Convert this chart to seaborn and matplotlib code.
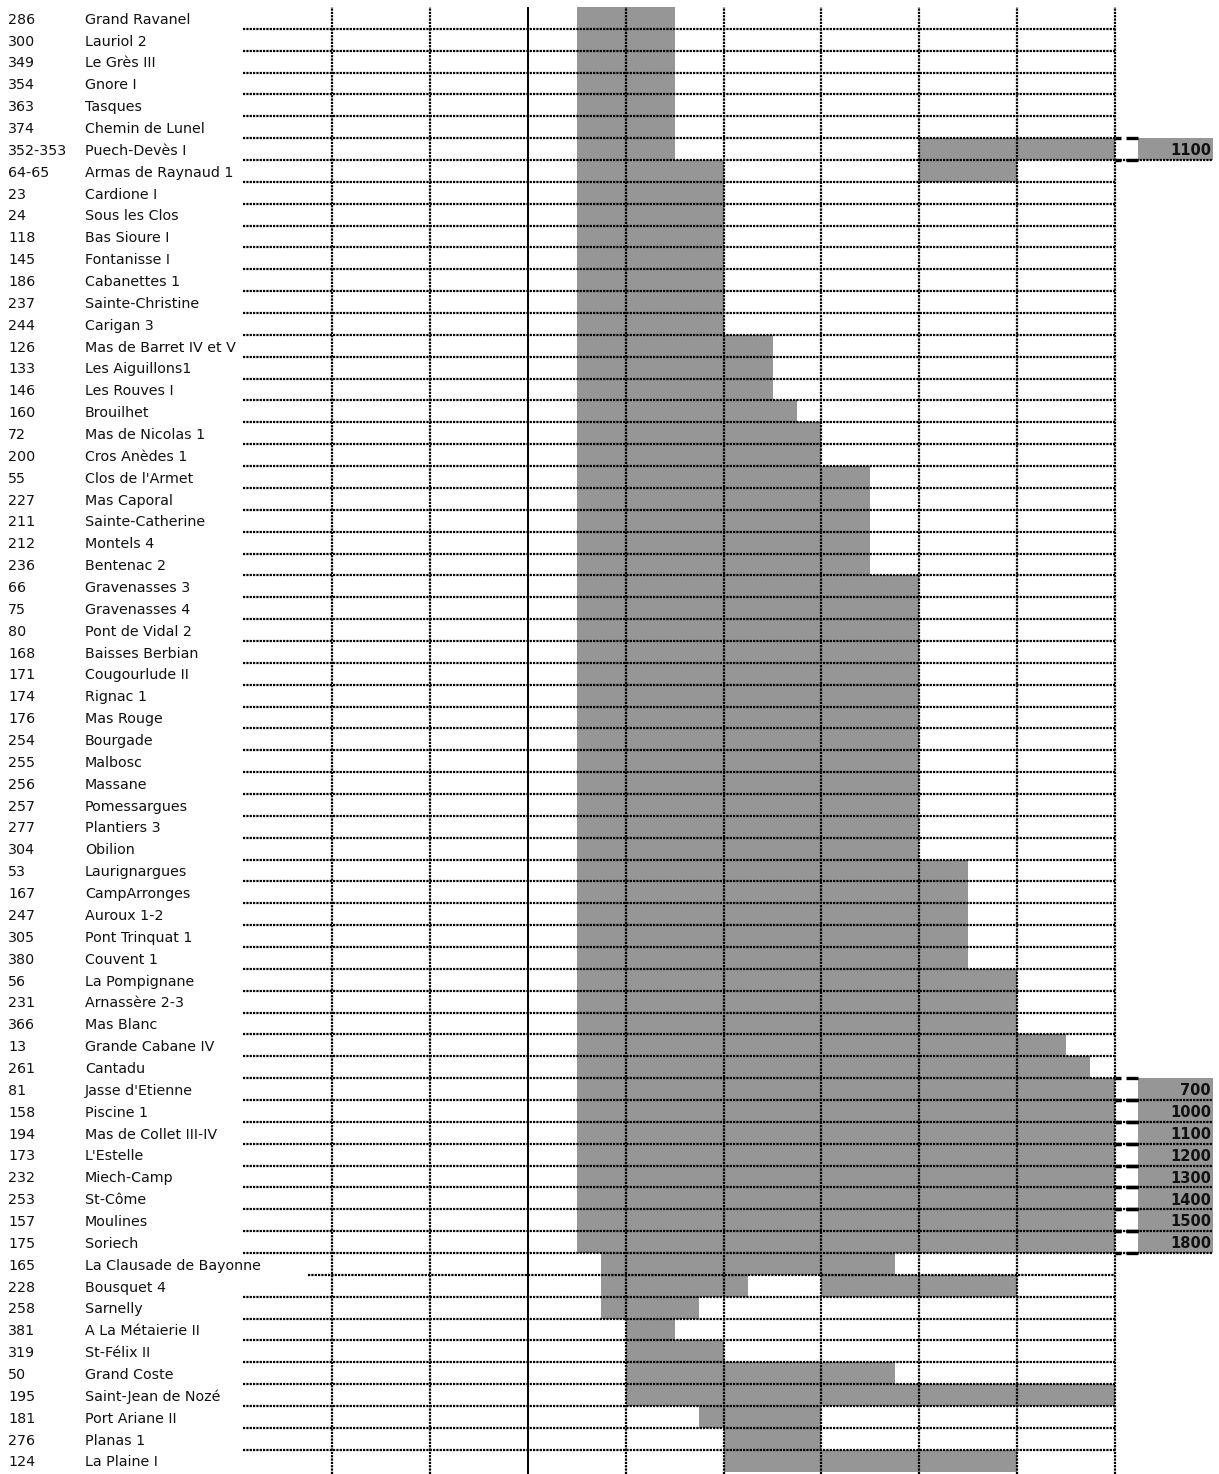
import numpy as np
import pandas as pd
import matplotlib
matplotlib.use("Agg")
import matplotlib.pyplot as plt
import seaborn as sns

# ---- site list (top to bottom) ----
site_ids = ["286", "300", "349", "354", "363", "374", "352-353", "64-65",
            "23", "24", "118", "145", "186", "237", "244",
            "126", "133", "146", "160", "72", "200",
            "55", "227", "211", "212", "236",
            "66", "75", "80", "168", "171", "174", "176", "254", "255", "256",
            "257", "277", "304",
            "53", "167", "247", "305", "380",
            "56", "231", "366", "13", "261",
            "81", "158", "194", "173", "232", "253", "157", "175",
            "165", "228", "258", "381", "319", "50", "195", "181", "276", "124"]

site_names = ["Grand Ravanel", "Lauriol 2", "Le Grès III", "Gnore I", "Tasques",
              "Chemin de Lunel", "Puech-Devès I", "Armas de Raynaud 1",
              "Cardione I", "Sous les Clos", "Bas Sioure I", "Fontanisse I",
              "Cabanettes 1", "Sainte-Christine", "Carigan 3",
              "Mas de Barret IV et V", "Les Aiguillons1", "Les Rouves I",
              "Brouilhet", "Mas de Nicolas 1", "Cros Anèdes 1",
              "Clos de l'Armet", "Mas Caporal", "Sainte-Catherine", "Montels 4",
              "Bentenac 2",
              "Gravenasses 3", "Gravenasses 4", "Pont de Vidal 2",
              "Baisses Berbian", "Cougourlude II", "Rignac 1", "Mas Rouge",
              "Bourgade", "Malbosc", "Massane", "Pomessargues", "Plantiers 3",
              "Obilion",
              "Laurignargues", "CampArronges", "Auroux 1-2", "Pont Trinquat 1",
              "Couvent 1",
              "La Pompignane", "Arnassère 2-3", "Mas Blanc", "Grande Cabane IV",
              "Cantadu",
              "Jasse d'Etienne", "Piscine 1", "Mas de Collet III-IV", "L'Estelle",
              "Miech-Camp", "St-Côme", "Moulines", "Soriech",
              "La Clausade de Bayonne", "Bousquet 4", "Sarnelly",
              "A La Métaierie II", "St-Félix II", "Grand Coste",
              "Saint-Jean de Nozé", "Port Ariane II", "Planas 1", "La Plaine I"]

# occupation periods (years)
start_years = [50] * 57 + [75, 75, 75, 100, 100, 100, 100, 175, 200, 200]

end_years = ([150] * 7 + [200] * 8 + [250] * 3 + [275] + [300] * 2 +
             [350] * 5 + [400] * 13 + [450] * 5 + [500] * 3 + [550, 575] +
             [700, 1000, 1100, 1200, 1300, 1400, 1500, 1800] +
             [375, 225, 175, 150, 200, 375, 600, 300, 300, 500])

# second occupation phase for a few sites
second_sites = ["Puech-Devès I", "Armas de Raynaud 1", "Bousquet 4"]
second_starts = [400, 400, 300]
second_ends = [1100, 500, 500]

# time axis
grid_years = [-200, -100, 0, 100, 200, 300, 400, 500, 600]
axis_end = 600

# ---- layout (pixels -> data) ----
W, H, DPI = 1219, 1474, 100
X0_PX = 528.0          # pixel position of year 0
PX_PER_YEAR = 0.978
ROW_PX = 21.86
TOP_PX = 7.0


def px_to_year(px):
    return (px - X0_PX) / PX_PER_YEAR


n_rows = len(site_names)
y_top = -0.5 - TOP_PX / ROW_PX
y_bot = -0.5 + (H - TOP_PX) / ROW_PX

BAR_GREY = "#969696"
LABEL_SIZE = 10.3

sns.set_theme(style="white")
plt.rcParams["font.family"] = ["DejaVu Sans"]

fig = plt.figure(figsize=(W / DPI, H / DPI), dpi=DPI)
ax = fig.add_axes([0, 0, 1, 1])

main = pd.DataFrame({
    "site": site_names,
    "start": start_years,
    "span": [min(e, axis_end) - s for s, e in zip(start_years, end_years)],
})
sns.barplot(data=main, x="span", y="site", order=site_names, orient="y",
            width=1.0, color=BAR_GREY, saturation=1, errorbar=None,
            left=main["start"].to_numpy(), linewidth=0, edgecolor="none",
            ax=ax, zorder=1)

second = pd.DataFrame({
    "site": second_sites,
    "start": second_starts,
    "span": [min(e, axis_end) - s for s, e in zip(second_starts, second_ends)],
})
sns.barplot(data=second, x="span", y="site", order=site_names, orient="y",
            width=1.0, color=BAR_GREY, saturation=1, errorbar=None,
            left=second["start"].to_numpy(), linewidth=0, edgecolor="none",
            ax=ax, zorder=1)

ax.set_xlim(px_to_year(0), px_to_year(W))
ax.set_ylim(y_bot, y_top)
ax.set_axis_off()

# ---- periods running past the axis: break marker + end-date box ----
break_rows = []
for i, (s, e) in enumerate(zip(start_years, end_years)):
    if e > axis_end:
        break_rows.append((i, e))
for name, e in zip(second_sites, second_ends):
    if e > axis_end:
        break_rows.append((site_names.index(name), e))

box_left = px_to_year(1138)
box_right = px_to_year(1213)
for i, e in break_rows:
    ax.add_patch(plt.Rectangle((box_left, i - 0.5), box_right - box_left, 1.0,
                               facecolor=BAR_GREY, edgecolor="none", zorder=1))
    ax.text(px_to_year(1211), i + 0.08, f"{e}", ha="right", va="center",
            fontsize=10.5, fontweight="bold", color="#111111", zorder=6)

# ---- horizontal row separators ----
dot = (0, (1.0, 0.5))
line_kw = dict(color="black", linewidth=1.6, linestyle=dot, zorder=3)
break_idx = {i for i, _ in break_rows}
clausade = site_names.index("La Clausade de Bayonne")
for b in range(n_rows - 1):
    yb = b + 0.5
    x_left = px_to_year(308) if b == clausade else px_to_year(243)
    x_right = box_right if b in break_idx else axis_end
    ax.plot([x_left, x_right], [yb, yb], **line_kw)

# break dashes on the upper and lower edge of each overflowing row
for i, _ in break_rows:
    for yb in (i - 0.5, i + 0.5):
        for a, b in ((1115, 1121), (1126, 1138)):
            ax.plot([px_to_year(a), px_to_year(b)], [yb, yb], color="black",
                    linewidth=2.4, solid_capstyle="butt", zorder=5)

# ---- vertical time grid ----
for gy in grid_years:
    if gy == 0:
        ax.plot([gy, gy], [y_bot, -0.5], color="black", linewidth=1.4,
                solid_capstyle="butt", zorder=4)
    else:
        ax.plot([gy, gy], [y_bot, -0.5], color="black", linewidth=1.6,
                linestyle=dot, zorder=4)

# ---- row labels ----
for i, (sid, name) in enumerate(zip(site_ids, site_names)):
    ax.text(px_to_year(8), i + 0.08, sid, ha="left", va="center",
            fontsize=LABEL_SIZE, color="#111111")
    ax.text(px_to_year(85), i + 0.08, name, ha="left", va="center",
            fontsize=LABEL_SIZE, color="#111111")

fig.savefig("out.png", dpi=DPI)
